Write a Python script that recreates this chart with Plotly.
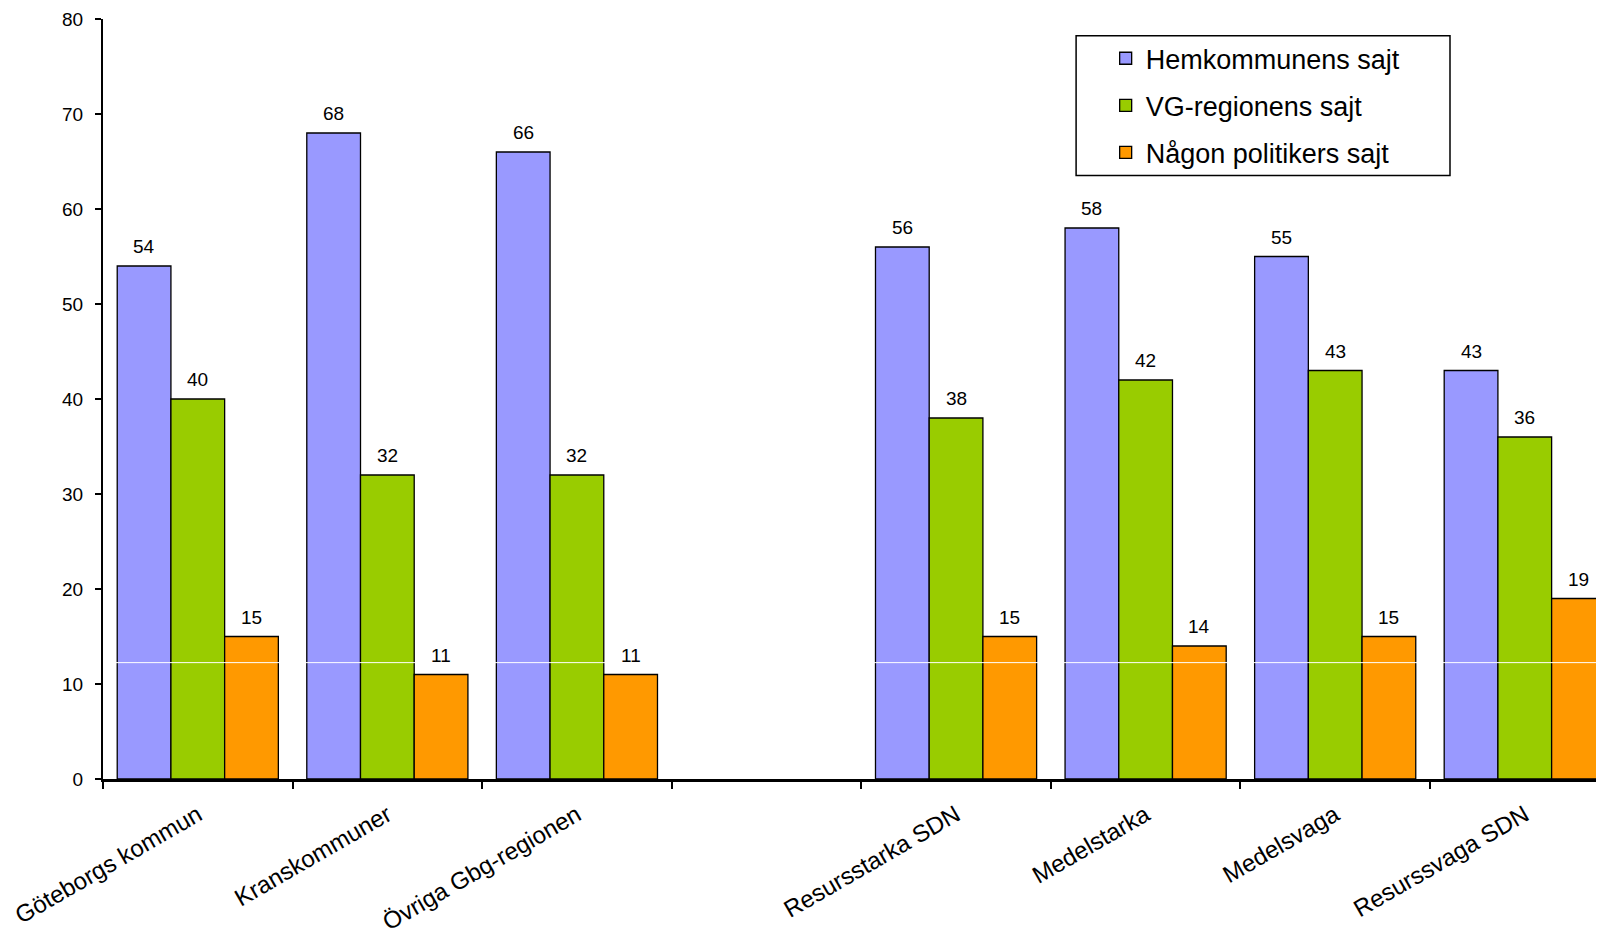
import plotly.graph_objects as go

categories = ["Göteborgs kommun", "Kranskommuner", "Övriga Gbg-regionen", "",
              "Resursstarka SDN", "Medelstarka", "Medelsvaga", "Resurssvaga SDN"]
series_names = ["Hemkommunens sajt", "VG-regionens sajt", "Någon politikers sajt"]
hemkommun = [54, 68, 66, None, 56, 58, 55, 43]
vg_region = [40, 32, 32, None, 38, 42, 43, 36]
politiker = [15, 11, 11, None, 15, 14, 15, 19]
colors = ["#9999FF", "#99CC00", "#FF9900"]
y_ticks = [0, 10, 20, 30, 40, 50, 60, 70, 80]
ARTIFACT_Y = 12.25

FONT = "Liberation Sans, Arial, sans-serif"
BARGAP = 0.15
n_series = 3
bw = (1 - BARGAP) / n_series

xs = list(range(len(categories)))
fig = go.Figure()
annotations = []
for i, (name, vals, col) in enumerate(zip(series_names, [hemkommun, vg_region, politiker], colors)):
    fig.add_trace(go.Bar(
        x=xs, y=vals, name=name,
        marker=dict(color=col, line=dict(color="black", width=1.3)),
        legendgroup=name,
    ))
    for j, v in enumerate(vals):
        if v is None:
            continue
        annotations.append(dict(
            x=j + (i - (n_series - 1) / 2) * bw, y=v, xref="x", yref="y",
            text=str(v), showarrow=False, yanchor="bottom", yshift=7,
            font=dict(family=FONT, size=19, color="black"),
        ))

fig.update_layout(
    width=1596, height=920,
    paper_bgcolor="white", plot_bgcolor="white",
    margin=dict(l=95, r=0, t=11, b=148.5, pad=0),
    barmode="group", bargap=BARGAP, bargroupgap=0,
    annotations=annotations,
    showlegend=True,
    legend=dict(
        x=0.668, y=0.980, xanchor="left", yanchor="top",
        bgcolor="rgba(0,0,0,0)", borderwidth=0,
        font=dict(family=FONT, size=27, color="black"),
        tracegroupgap=9, traceorder="grouped",
    ),
    shapes=[
        dict(type="rect", xref="paper", yref="paper",
             x0=0.6483, x1=0.8974, y0=0.794, y1=0.9781,
             line=dict(color="black", width=1.5), fillcolor="rgba(0,0,0,0)", layer="above"),
        dict(type="line", xref="paper", yref="y", x0=0.003, x1=1,
             y0=ARTIFACT_Y, y1=ARTIFACT_Y, line=dict(color="white", width=1), layer="above"),
    ],
)
fig.update_xaxes(
    range=[-0.5, 7.418], automargin=False,
    tickmode="array", tickvals=xs, ticktext=categories,
    tickangle=-30, ticks="",
    minor=dict(tick0=0.5, dtick=1, ticks="outside", ticklen=7, tickwidth=1.5, tickcolor="black"),
    tickfont=dict(family=FONT, size=24, color="black"),
    ticklabelstandoff=10,
    showline=True, linecolor="black", linewidth=2.5, showgrid=False, zeroline=False,
)
fig.update_yaxes(
    range=[0, 80], automargin=False, tickmode="array", tickvals=y_ticks,
    ticks="outside", ticklen=6, tickwidth=1.5, tickcolor="black",
    tickfont=dict(family=FONT, size=19, color="black"),
    ticklabelstandoff=8,
    showline=True, linecolor="black", linewidth=2, showgrid=False, zeroline=False,
)
fig.write_html("out.html")
